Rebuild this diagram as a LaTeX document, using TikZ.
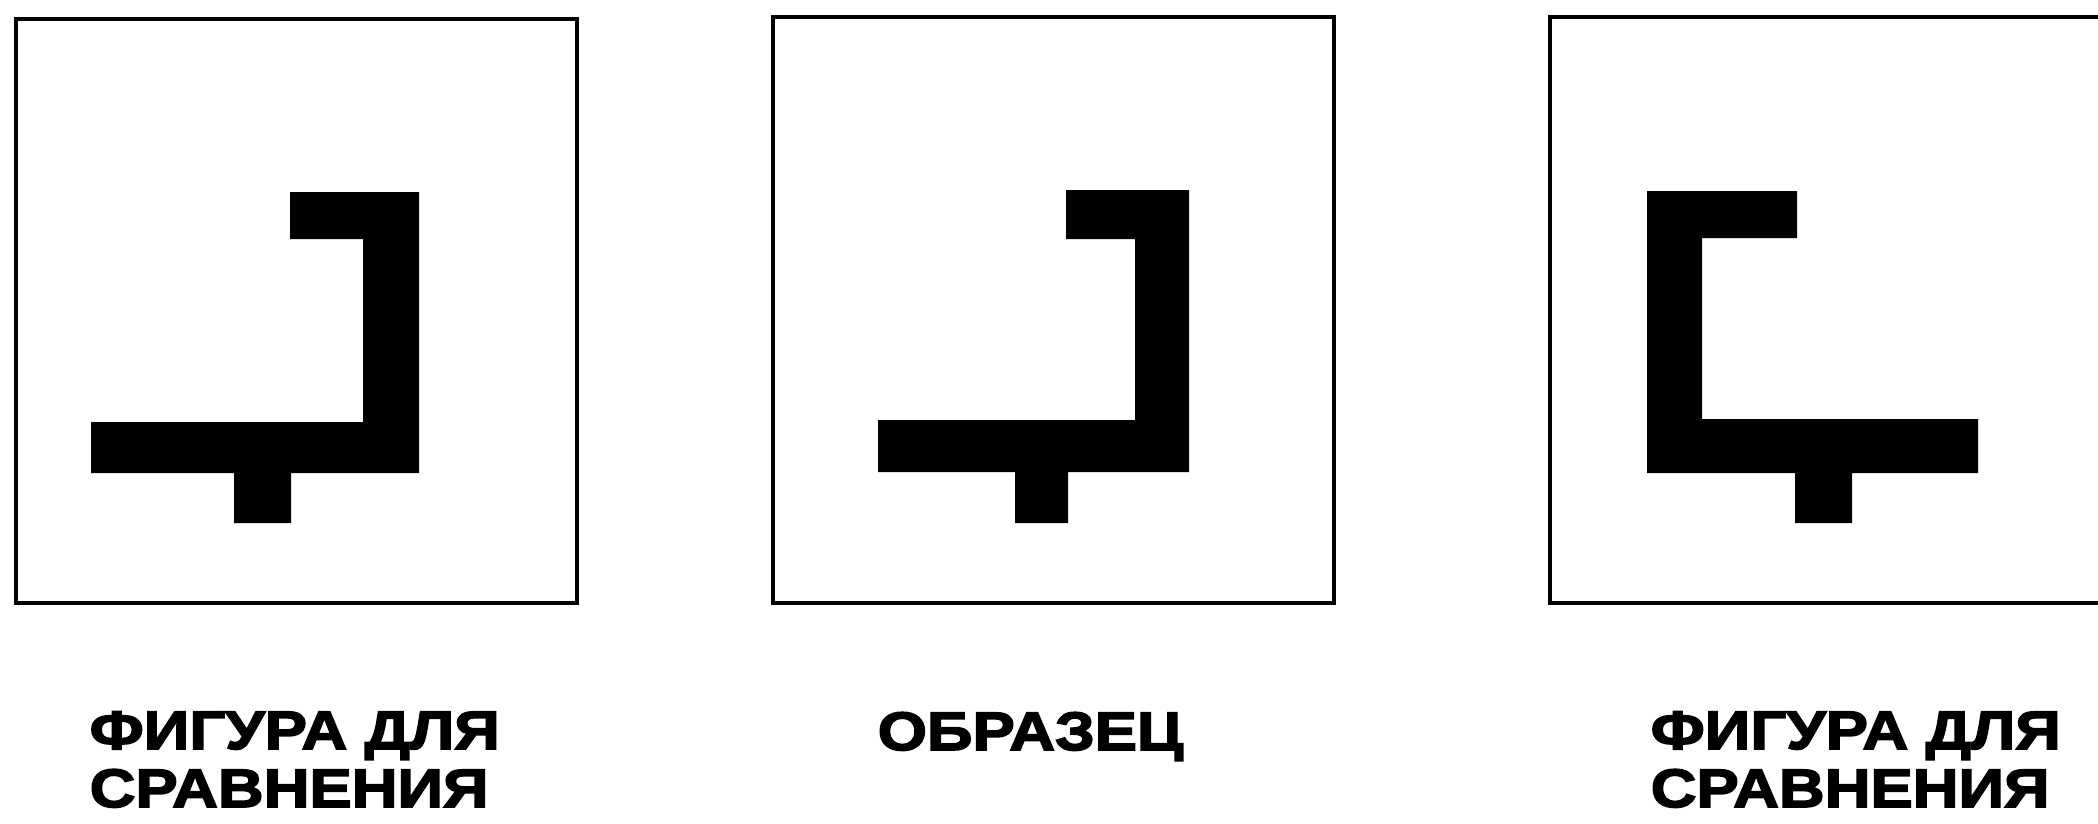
\documentclass[tikz,border=0pt]{standalone}
\usepackage{fontspec}
\setmainfont{Liberation Sans}
\newfontfamily\capfont[FakeStretch=1.17,FakeBold=3]{Liberation Sans Bold}
\usetikzlibrary{positioning}
\tikzset{
  frame/.style={draw=black, line width=1pt, line join=miter},
  figfill/.style={fill=black},
  caption/.style={anchor=base west, inner sep=0pt, align=left,
    font=\capfont\fontsize{15.4}{16.5}\selectfont},
}

\begin{document}
\begin{tikzpicture}[x=0.01cm, y=-0.01cm]
    \useasboundingbox (0,0) rectangle (2098,823);
    % three frames (the right one runs off the page)
    \draw[frame] (16,19) rectangle (577,603);
    \draw[frame] (773,17) rectangle (1334,603);
    \draw[frame] (2098,17) -- (1550,17) -- (1550,603) -- (2098,603);
    % left figure for comparison
    \fill[figfill] (290,192) -- (419,192) -- (419,473) -- (291,473) -- (291,523)
      -- (234,523) -- (234,473) -- (91,473) -- (91,422) -- (363,422)
      -- (363,239) -- (290,239) -- cycle;
    % sample
    \fill[figfill] (1066,190) -- (1189,190) -- (1189,472) -- (1068,472) -- (1068,523)
      -- (1015,523) -- (1015,472) -- (878,472) -- (878,420) -- (1135,420)
      -- (1135,239) -- (1066,239) -- cycle;
    % right figure for comparison (mirrored)
    \fill[figfill] (1647,191) -- (1797,191) -- (1797,238) -- (1702,238) -- (1702,419)
      -- (1978,419) -- (1978,473) -- (1852,473) -- (1852,523) -- (1795,523)
      -- (1795,473) -- (1647,473) -- cycle;
    % captions (base = last line)
    \node[caption] (capL) at (89,807) {ФИГУРА ДЛЯ\\СРАВНЕНИЯ};
    \node[caption] (capS) at (877,750) {ОБРАЗЕЦ};
    \node[caption] (capR) at (1650,807) {ФИГУРА ДЛЯ\\СРАВНЕНИЯ};
\end{tikzpicture}
\end{document}
